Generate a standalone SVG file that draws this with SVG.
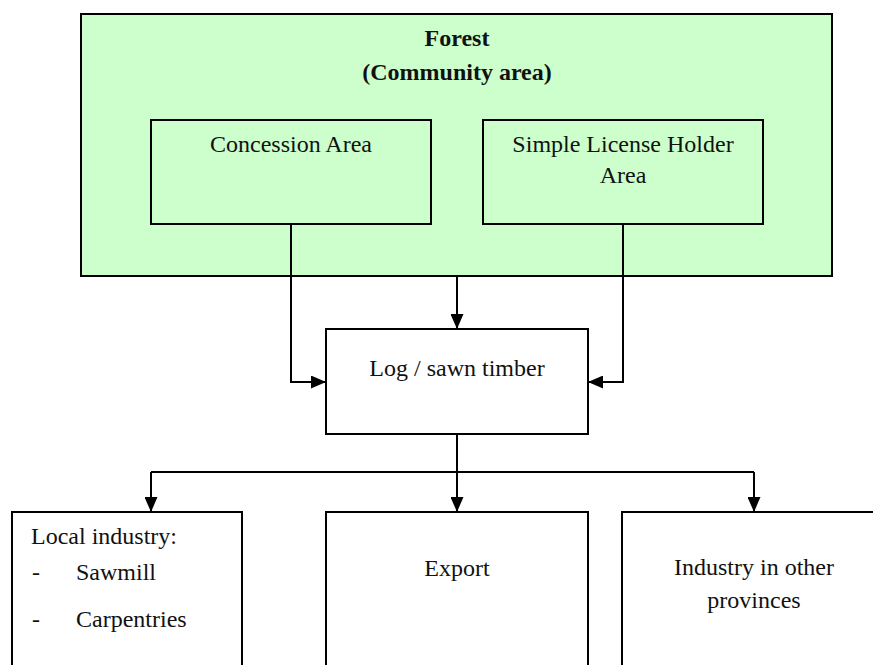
<svg xmlns="http://www.w3.org/2000/svg" width="873" height="665" viewBox="0 0 873 665">
  <style>
    .box { fill: #ffffff; stroke: #000000; stroke-width: 2; }
    .green { fill: #ccffcc; }
    .lbl { font-family: "Liberation Serif", "Times New Roman", serif; font-size: 24px; fill: #111111; }
    .mid { text-anchor: middle; }
    .bold { font-weight: bold; }
    .wire { fill: none; stroke: #000000; stroke-width: 2; }
  </style>
  <defs>
    <marker id="arrow" markerUnits="userSpaceOnUse" markerWidth="15" markerHeight="13" refX="15" refY="6.5" orient="auto">
      <path d="M0,0 L15,6.5 L0,13 Z" fill="#000000"/>
    </marker>
  </defs>

  <rect width="873" height="665" fill="#ffffff"/>

  <!-- Forest (community area) container -->
  <g id="forest">
    <rect class="box green" x="81" y="14" width="751" height="262"/>
    <text class="lbl mid bold" x="457" y="46">Forest</text>
    <text class="lbl mid bold" x="457" y="80">(Community area)</text>
  </g>

  <g id="concession">
    <rect class="box green" x="151" y="120" width="280" height="104"/>
    <text class="lbl mid" x="291" y="152">Concession Area</text>
  </g>

  <g id="simple-license">
    <rect class="box green" x="483" y="120" width="280" height="104"/>
    <text class="lbl mid" x="623" y="152">Simple License Holder</text>
    <text class="lbl mid" x="623" y="183">Area</text>
  </g>

  <g id="log">
    <rect class="box" x="326" y="329" width="262" height="105"/>
    <text class="lbl mid" x="457" y="376">Log / sawn timber</text>
  </g>

  <g id="local-industry">
    <rect class="box" x="12" y="512" width="230" height="200"/>
    <text class="lbl" x="31" y="544">Local industry:</text>
    <text class="lbl" x="32" y="580">-</text>
    <text class="lbl" x="76" y="580">Sawmill</text>
    <text class="lbl" x="32" y="627">-</text>
    <text class="lbl" x="76" y="627">Carpentries</text>
  </g>

  <g id="export">
    <rect class="box" x="326" y="512" width="262" height="200"/>
    <text class="lbl mid" x="457" y="576">Export</text>
  </g>

  <g id="other-provinces">
    <rect class="box" x="622" y="512" width="300" height="200"/>
    <text class="lbl mid" x="754" y="575">Industry in other</text>
    <text class="lbl mid" x="754" y="608">provinces</text>
  </g>

  <!-- Connectors -->
  <g id="connectors">
    <path class="wire" d="M457,276 V329" marker-end="url(#arrow)"/>
    <path class="wire" d="M291,224 V382 H326" marker-end="url(#arrow)"/>
    <path class="wire" d="M623,224 V382 H588" marker-end="url(#arrow)"/>
    <path class="wire" d="M457,434 V472"/>
    <path class="wire" d="M151,472 H754"/>
    <path class="wire" d="M151,472 V512" marker-end="url(#arrow)"/>
    <path class="wire" d="M457,472 V512" marker-end="url(#arrow)"/>
    <path class="wire" d="M754,472 V512" marker-end="url(#arrow)"/>
  </g>
</svg>
